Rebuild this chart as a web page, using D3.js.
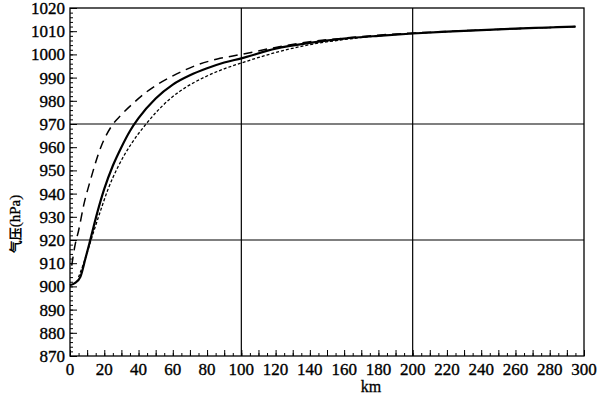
<!DOCTYPE html>
<html>
<head>
<meta charset="utf-8">
<script src="https://cdn.jsdelivr.net/npm/d3@7"></script>
<style>
  body { margin: 0; background: #fff; }
  text { font-family: "Liberation Serif", "DejaVu Serif", serif; fill: #000; }
</style>
</head>
<body>
<div id="chart"></div>
<script>
// distance from centre (km) and sea-level pressure (hPa) for the three profiles
const solidKm  = [0, 3, 6, 9, 12, 16, 20, 25, 30, 35, 40, 50, 60, 70, 80, 90, 100, 120, 140, 160, 180, 200, 220, 240, 260, 280, 295];
const solidHpa = [900.5, 901.5, 904, 912, 920.5, 932, 942, 952, 960, 967, 972.5, 981, 987, 991, 994, 996.5, 998.3, 1002.5, 1005, 1006.8, 1008, 1009, 1009.8, 1010.5, 1011.1, 1011.6, 1012];

const dashKm  = [1, 3, 5, 8, 12, 18, 24, 30, 37, 45, 52, 62, 74, 86, 100, 120, 140, 160, 180, 200, 220, 240, 260, 280, 295];
const dashHpa = [909, 918, 924, 935, 946, 960, 968.8, 974, 979, 984, 987.5, 991.5, 995.4, 998, 1000, 1003, 1005.5, 1007, 1008.3, 1009.2, 1009.9, 1010.5, 1011.1, 1011.6, 1012];

const dotKm  = [5, 8, 11, 14, 18, 22, 28, 36, 43, 50, 58, 68, 78, 90, 100, 120, 140, 160, 180, 200, 220, 240, 260, 280, 295];
const dotHpa = [904, 910, 917, 924, 933, 941.5, 951.5, 961.7, 968.7, 974.8, 980.6, 986, 990, 993.8, 996.3, 1000.8, 1004.2, 1006.4, 1008, 1009, 1009.8, 1010.5, 1011.1, 1011.6, 1012];

const xTicks = d3.range(0, 301, 20);
const yTicks = d3.range(870, 1021, 10);
const gridX = [100, 200];
const gridY = [970, 920];

const width = 600, height = 396,
  margin = {top: 8, right: 16, bottom: 40, left: 70};

const svg = d3.select("#chart")
  .append("svg")
  .attr("width", width)
  .attr("height", height);

let x = d3.scaleLinear([0, 300], [margin.left, width - margin.right]);
let y = d3.scaleLinear([870, 1020], [height - margin.bottom, margin.top]);

// grid lines
svg.append("g")
  .selectAll("line")
  .data(gridX)
  .join("line")
  .attr("x1", d => x(d)).attr("x2", d => x(d))
  .attr("y1", y(870)).attr("y2", y(1020))
  .attr("stroke", "#000").attr("stroke-width", 1.2);

svg.append("g")
  .selectAll("line")
  .data(gridY)
  .join("line")
  .attr("x1", x(0)).attr("x2", x(300))
  .attr("y1", d => y(d)).attr("y2", d => y(d))
  .attr("stroke", "#000").attr("stroke-width", 1.2);

// frame
svg.append("rect")
  .attr("x", x(0)).attr("y", y(1020))
  .attr("width", x(300) - x(0)).attr("height", y(870) - y(1020))
  .attr("fill", "none").attr("stroke", "#000").attr("stroke-width", 1.3);

// minor ticks, inward
svg.append("g")
  .attr("transform", `translate(${x(0)},0)`)
  .call(d3.axisRight(y).tickValues(d3.range(870, 1021, 2)).tickSize(3).tickFormat(""))
  .call(g => g.select(".domain").remove());
svg.append("g")
  .attr("transform", `translate(${x(0)},0)`)
  .call(d3.axisRight(y).tickValues(yTicks).tickSize(7).tickFormat(""))
  .call(g => g.select(".domain").remove());
svg.append("g")
  .attr("transform", `translate(0,${y(870)})`)
  .call(d3.axisTop(x).tickValues(d3.range(0, 301, 5)).tickSize(3).tickFormat(""))
  .call(g => g.select(".domain").remove());
svg.append("g")
  .attr("transform", `translate(0,${y(870)})`)
  .call(d3.axisTop(x).tickValues(d3.range(0, 301, 10)).tickSize(6).tickFormat(""))
  .call(g => g.select(".domain").remove());

// tick labels
svg.append("g")
  .selectAll("text")
  .data(yTicks)
  .join("text")
  .attr("x", x(0) - 5)
  .attr("y", d => y(d) + 6)
  .attr("text-anchor", "end")
  .attr("stroke", "#000").attr("stroke-width", 0.35)
  .style("font-size", "17px")
  .text(d => d);

svg.append("g")
  .selectAll("text")
  .data(xTicks)
  .join("text")
  .attr("x", d => x(d))
  .attr("y", y(870) + 19)
  .attr("text-anchor", "middle")
  .attr("stroke", "#000").attr("stroke-width", 0.35)
  .style("font-size", "17px")
  .text(d => d);

svg.append("text")
  .attr("x", 371).attr("y", 392)
  .attr("text-anchor", "middle")
  .attr("stroke", "#000").attr("stroke-width", 0.3)
  .style("font-size", "16px")
  .text("km");

const yLabel = svg.append("text")
  .attr("transform", `translate(20,${(y(870) + y(1020)) / 2 + 42}) rotate(-90)`)
  .attr("text-anchor", "middle")
  .style("font-size", "15px");
yLabel.append("tspan")
  .style("font-family", "'Noto Sans CJK SC', sans-serif")
  .style("font-weight", "bold")
  .style("font-size", "13px")
  .text("气压");
yLabel.append("tspan")
  .attr("stroke", "#000").attr("stroke-width", 0.3)
  .text("(hPa)");

// curves
const line = d3.line()
  .x(d => x(d[0]))
  .y(d => y(d[1]))
  .curve(d3.curveMonotoneX);

const series = [
  {km: dotKm, hpa: dotHpa, width: 1.3, dash: "3,2"},
  {km: dashKm, hpa: dashHpa, width: 1.5, dash: "9,6"},
  {km: solidKm, hpa: solidHpa, width: 2.2, dash: null}
];

svg.append("g")
  .selectAll("path")
  .data(series)
  .join("path")
  .attr("d", s => line(d3.zip(s.km, s.hpa)))
  .attr("fill", "none")
  .attr("stroke", "#000")
  .attr("stroke-width", s => s.width)
  .attr("stroke-dasharray", s => s.dash);
</script>
</body>
</html>
